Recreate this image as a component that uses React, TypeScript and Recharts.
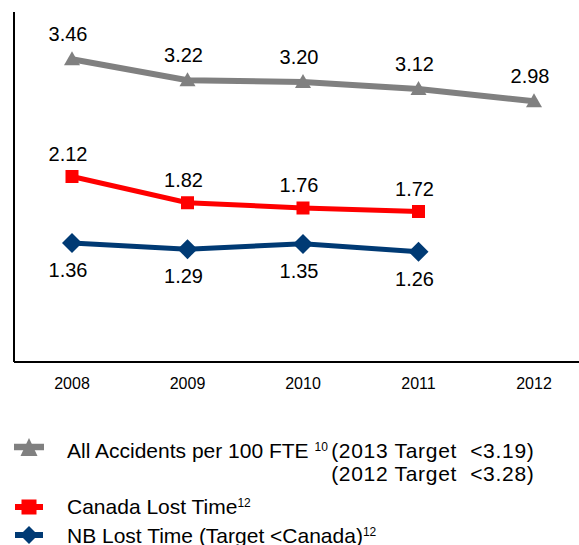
import React from "react";
import { LineChart, Line, XAxis, YAxis, LabelList } from "recharts";

const years = ["2008", "2009", "2010", "2011", "2012"];
const allAccidents = [3.46, 3.22, 3.2, 3.12, 2.98];
const canadaLostTime = [2.12, 1.82, 1.76, 1.72, null];
const nbLostTime = [1.36, 1.29, 1.35, 1.26, null];

const GRAY = "#808080";
const RED = "#FF0000";
const NAVY = "#003A74";
const FONT = "'Liberation Sans', Arial, sans-serif";

const data = years.map((year, i) => ({
  year,
  all: allAccidents[i],
  canada: canadaLostTime[i],
  nb: nbLostTime[i],
}));

const valid = (v: any) => v !== null && v !== undefined && !Number.isNaN(v);

const TriangleDot = (props: any) => {
  const { cx, cy } = props;
  if (!valid(cx) || !valid(cy)) return <g key={props.key} />;
  return (
    <path
      key={props.key}
      d={`M${cx},${cy - 8} L${cx + 8},${cy + 6} L${cx - 8},${cy + 6} Z`}
      fill={GRAY}
    />
  );
};

const SquareDot = (props: any) => {
  const { cx, cy } = props;
  if (!valid(cx) || !valid(cy)) return <g key={props.key} />;
  return <rect key={props.key} x={cx - 6.5} y={cy - 6.5} width={13} height={13} fill={RED} />;
};

const DiamondDot = (props: any) => {
  const { cx, cy } = props;
  if (!valid(cx) || !valid(cy)) return <g key={props.key} />;
  return (
    <path
      key={props.key}
      d={`M${cx},${cy - 10} L${cx + 10},${cy} L${cx},${cy + 10} L${cx - 10},${cy} Z`}
      fill={NAVY}
    />
  );
};

const makeLabel = (dy: number) => (props: any) => {
  const { x, y, value } = props;
  if (!valid(value) || !valid(x) || !valid(y)) return null;
  return (
    <text
      x={x - 4}
      y={y + dy}
      textAnchor="middle"
      dominantBaseline="central"
      fontSize={20}
      fontFamily={FONT}
      fill="#000"
    >
      {Number(value).toFixed(2)}
    </text>
  );
};

const legendText: React.CSSProperties = {
  fontFamily: FONT,
  fontSize: 21,
  color: "#000",
  lineHeight: "23px",
  whiteSpace: "pre",
  position: "absolute",
  left: 67,
};

const supStyle: React.CSSProperties = {
  fontSize: 12,
  position: "relative",
  top: -7.5,
};

const LegendIcon = ({ kind, top }: { kind: "tri" | "sq" | "dia"; top: number }) => (
  <svg width={32} height={22} style={{ position: "absolute", left: 13, top }}>
    {kind === "tri" && (
      <>
        <line x1={1} y1={10} x2={31} y2={10} stroke={GRAY} strokeWidth={6.5} />
        <path d="M16,1 L24.5,19 L7.5,19 Z" fill={GRAY} />
      </>
    )}
    {kind === "sq" && (
      <>
        <line x1={2} y1={11} x2={30} y2={11} stroke={RED} strokeWidth={6} />
        <rect x={8.5} y={3.5} width={15} height={15} fill={RED} />
      </>
    )}
    {kind === "dia" && (
      <>
        <line x1={2} y1={11} x2={30} y2={11} stroke={NAVY} strokeWidth={6} />
        <path d="M16,2 L25,11 L16,20 L7,11 Z" fill={NAVY} />
      </>
    )}
  </svg>
);

export default function App() {
  return (
    <div
      style={{
        position: "absolute",
        left: 0,
        top: 0,
        width: 579,
        height: 545,
        overflow: "hidden",
        background: "#fff",
      }}
    >
      <LineChart
        width={600}
        height={400}
        data={data}
        margin={{ top: 12, right: 8.5, bottom: 8, left: 13 }}
      >
        <XAxis
          dataKey="year"
          height={30}
          tickLine={false}
          tickMargin={10}
          padding={{ left: 58, right: 57.5 }}
          axisLine={{ stroke: "#000", strokeWidth: 2 }}
          tick={{ fontSize: 16, fill: "#000", fontFamily: FONT }}
          interval={0}
        />
        <YAxis
          width={1}
          domain={[0, 4]}
          tick={false}
          tickLine={false}
          axisLine={{ stroke: "#000", strokeWidth: 2 }}
        />
        <Line
          dataKey="all"
          stroke={GRAY}
          strokeWidth={6}
          dot={TriangleDot}
          activeDot={false}
          isAnimationActive={false}
        >
          <LabelList dataKey="all" content={makeLabel(-25)} />
        </Line>
        <Line
          dataKey="canada"
          stroke={RED}
          strokeWidth={5}
          dot={SquareDot}
          activeDot={false}
          isAnimationActive={false}
        >
          <LabelList dataKey="canada" content={makeLabel(-23)} />
        </Line>
        <Line
          dataKey="nb"
          stroke={NAVY}
          strokeWidth={5}
          dot={DiamondDot}
          activeDot={false}
          isAnimationActive={false}
        >
          <LabelList dataKey="nb" content={makeLabel(27)} />
        </Line>
      </LineChart>

      <LegendIcon kind="tri" top={437} />
      <div style={{ ...legendText, top: 439, display: "flex", alignItems: "flex-start" }}>
        <span>
          {"All Accidents per 100 FTE "}
          <span style={supStyle}>{"10 "}</span>
        </span>
        <span style={{ display: "inline-block", textAlign: "right", letterSpacing: 0.7 }}>
          {"(2013 Target  <3.19)"}
          <br />
          {"(2012 Target  <3.28)"}
        </span>
      </div>

      <LegendIcon kind="sq" top={496} />
      <div style={{ ...legendText, top: 495 }}>
        Canada Lost Time<span style={supStyle}>12</span>
      </div>

      <LegendIcon kind="dia" top={524} />
      <div style={{ ...legendText, top: 524 }}>
        NB Lost Time (Target &lt;Canada)<span style={supStyle}>12</span>
      </div>
    </div>
  );
}
